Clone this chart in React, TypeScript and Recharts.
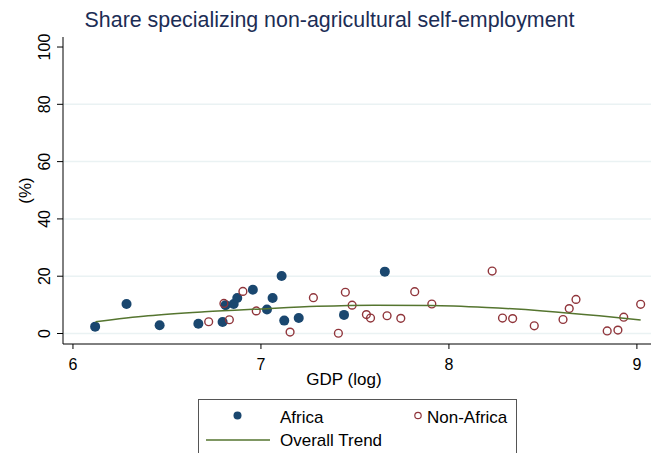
import { ScatterChart, Scatter, XAxis, YAxis, ReferenceLine } from "recharts";

const africaGdp = [6.118, 6.285, 6.461, 6.667, 6.796, 6.812, 6.855, 6.874, 6.957, 7.032, 7.062, 7.11, 7.124, 7.201, 7.442, 7.659];
const africaShare = [2.4, 10.3, 2.9, 3.4, 4.0, 9.9, 10.3, 12.4, 15.3, 8.4, 12.4, 20.1, 4.5, 5.4, 6.5, 21.6];

const nonAfricaGdp = [6.722, 6.803, 6.832, 6.904, 6.975, 7.155, 7.279, 7.412, 7.449, 7.485, 7.561, 7.583, 7.671, 7.744, 7.818, 7.909, 8.23, 8.285, 8.339, 8.454, 8.607, 8.64, 8.676, 8.842, 8.899, 8.93, 9.02];
const nonAfricaShare = [4.1, 10.5, 4.8, 14.7, 7.9, 0.5, 12.5, 0.1, 14.4, 9.9, 6.6, 5.4, 6.2, 5.3, 14.6, 10.3, 21.8, 5.4, 5.2, 2.7, 4.9, 8.7, 11.9, 0.9, 1.2, 5.7, 10.2];

const trendGdp = [6.12, 6.4, 6.7, 7.0, 7.3, 7.6, 7.9, 8.2, 8.5, 8.8, 9.02];
const trendShare = [4.1, 6.2, 7.6, 8.6, 9.5, 9.9, 9.8, 9.1, 7.9, 6.2, 4.7];

const xTicks = [6, 7, 8, 9];
const yTicks = [0, 20, 40, 60, 80, 100];
const gridValues = [0, 20, 40, 60, 80];

const NAVY = "#1a476f";
const MAROON = "#90353b";
const GREEN = "#55752f";
const FONT = "'Liberation Sans', Arial, sans-serif";

const africa = africaGdp.map((x, i) => ({ x, y: africaShare[i] }));
const nonAfrica = nonAfricaGdp.map((x, i) => ({ x, y: nonAfricaShare[i] }));
const trend = trendGdp.map((x, i) => ({ x, y: trendShare[i] }));

const YTick = (p: any) => {
  const bx = p.x - 5;
  return (
    <text x={bx} y={p.y} transform={`rotate(-90, ${bx}, ${p.y})`} textAnchor="middle" fontSize={16} fill="#000" fontFamily={FONT}>
      {p.payload.value}
    </text>
  );
};

export default function App() {
  return (
    <div style={{ position: "fixed", left: 0, top: 0, width: 659, height: 453, overflow: "hidden", background: "#fff", fontFamily: FONT }}>
      <ScatterChart width={659} height={453} margin={{ top: 37, right: 8, bottom: 79, left: 23 }}>
        <XAxis
          type="number"
          dataKey="x"
          domain={[5.947, 9.075]}
          ticks={xTicks}
          allowDataOverflow
          stroke="#000"
          tickSize={5}
          tickMargin={10}
          tick={{ fill: "#000", fontSize: 16, fontFamily: FONT }}
          height={30}
        />
        <YAxis
          type="number"
          dataKey="y"
          domain={[-3.66, 103.5]}
          ticks={yTicks}
          allowDataOverflow
          stroke="#000"
          tickSize={6}
          tickMargin={2}
          tick={<YTick />}
          width={40}
        />
        {gridValues.map((v) => (
          <ReferenceLine key={v} y={v} stroke="#eaf2f3" strokeWidth={1.5} />
        ))}
        <Scatter
          data={africa}
          isAnimationActive={false}
          shape={(p: any) => <circle cx={p.cx} cy={p.cy} r={5} fill={NAVY} />}
        />
        <Scatter
          data={nonAfrica}
          isAnimationActive={false}
          shape={(p: any) => <circle cx={p.cx} cy={p.cy} r={3.9} fill="none" stroke={MAROON} strokeWidth={1.4} />}
        />
        <Scatter
          data={trend}
          isAnimationActive={false}
          line={{ stroke: GREEN, strokeWidth: 1.5 }}
          lineJointType="monotoneX"
          shape={() => <g />}
        />
      </ScatterChart>
      <svg width={659} height={453} style={{ position: "absolute", left: 0, top: 0, pointerEvents: "none" }}>
        <text x={329.5} y={26.5} textAnchor="middle" fontSize={21.4} fill="#1c2d55" fontFamily={FONT}>
          Share specializing non-agricultural self-employment
        </text>
        <text x={31} y={190.5} transform="rotate(-90, 31, 190.5)" textAnchor="middle" fontSize={17} fill="#000" fontFamily={FONT}>
          (%)
        </text>
        <text x={344} y={385} textAnchor="middle" fontSize={17} fill="#000" fontFamily={FONT}>
          GDP (log)
        </text>
        <rect x={198.5} y={399.5} width={318} height={70} fill="#fff" stroke="#555" strokeWidth={1} />
        <circle cx={237.5} cy={415.5} r={4} fill={NAVY} />
        <text x={280} y={423} fontSize={17} fill="#000" fontFamily={FONT}>Africa</text>
        <circle cx={418} cy={415.5} r={3.2} fill="none" stroke={MAROON} strokeWidth={1.2} />
        <text x={427} y={423} fontSize={17} fill="#000" fontFamily={FONT}>Non-Africa</text>
        <line x1={206} y1={440} x2={270} y2={440} stroke={GREEN} strokeWidth={1.5} />
        <text x={280} y={446} fontSize={17} fill="#000" fontFamily={FONT}>Overall Trend</text>
      </svg>
    </div>
  );
}
